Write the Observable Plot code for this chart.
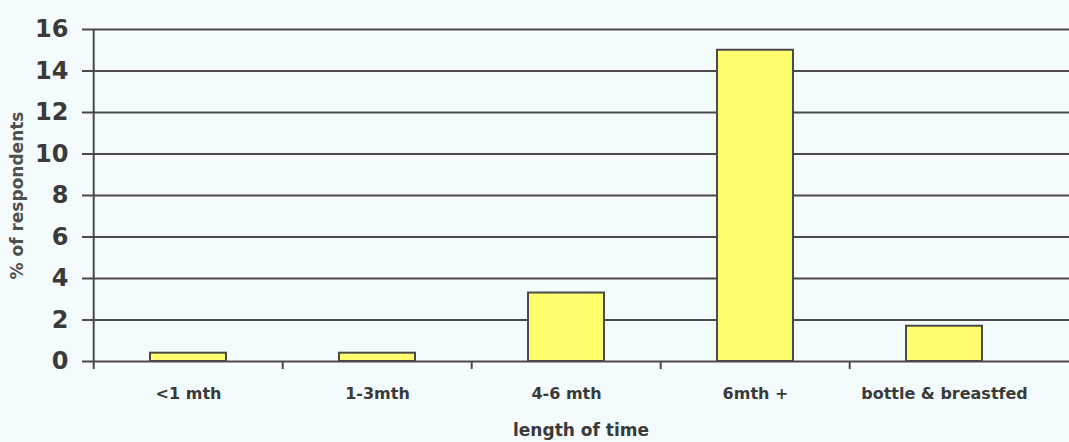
<!DOCTYPE html>
<html>
<head>
<meta charset="utf-8">
<script src="https://cdn.jsdelivr.net/npm/d3@7"></script>
<script src="https://cdn.jsdelivr.net/npm/@observablehq/plot@0.6"></script>
<style>
  html, body { margin: 0; padding: 0; background: #f4fbfc; }
  #chart svg { display: block; }
</style>
</head>
<body>
<div id="chart"></div>
<script>
// Length of breastfeeding, % of respondents
const categories = ["<1 mth", "1-3mth", "4-6 mth", "6mth +", "bottle & breastfed"];
const percentages = [0.4, 0.4, 3.3, 15, 1.7];
const yTicks = [0, 2, 4, 6, 8, 10, 12, 14, 16];

const data = categories.map((category, i) => ({category, value: percentages[i]}));

const width = 1069, height = 442;
const marginLeft = 92, marginRight = 0, marginTop = 29, marginBottom = 81;
const xRange = [marginLeft, 1040];
const step = (xRange[1] - xRange[0]) / categories.length; // one category slot
const ink = "#4a4a4a";
const textInk = "#3a3a3a";
const font = "'DejaVu Sans', sans-serif";

const chart = Plot.plot({
  width, height, marginLeft, marginRight, marginTop, marginBottom,
  style: {background: "#f4fbfc", color: textInk, fontFamily: font},
  x: {domain: categories, range: xRange, paddingInner: 0.6, paddingOuter: 0.3},
  y: {domain: [0, 16]},
  marks: [
    // horizontal gridlines across the whole frame
    Plot.ruleY(yTicks, {stroke: ink, strokeWidth: 2}),
    Plot.barY(data, {x: "category", y: "value", fill: "#ffff6e", stroke: ink, strokeWidth: 2}),
    // vertical axis line at the start of the first category slot
    Plot.ruleX(categories.slice(0, 1), {x: d => d, y1: 16, y2: 0, dx: -step / 2, insetBottom: -8, stroke: ink, strokeWidth: 2}),
    // category separators below the baseline
    Plot.ruleX(categories.slice(1), {x: d => d, y1: 0, y2: 0, dx: -step / 2, insetBottom: -8, stroke: ink, strokeWidth: 2}),
    // y tick marks and numbers
    Plot.axisY({ticks: yTicks, tickSize: 10, tickPadding: 14, stroke: ink, strokeWidth: 2,
      fontSize: 24, fontWeight: "bold", label: null}),
    // y axis title
    Plot.axisY({ticks: [], tickSize: 0, fontSize: 17, fontWeight: "bold", fill: "#505050",
      label: "% of respondents", labelAnchor: "center", labelArrow: "none", labelOffset: 82}),
    // category names
    Plot.axisX({tickSize: 0, tickPadding: 26, fontSize: 16, fontWeight: "bold", label: null}),
    // x axis title
    Plot.axisX({ticks: [], tickSize: 0, fontSize: 17, fontWeight: "bold",
      label: "length of time", labelAnchor: "center", labelArrow: "none", labelOffset: 74})
  ]
});

document.getElementById("chart").appendChild(chart);
</script>
</body>
</html>
